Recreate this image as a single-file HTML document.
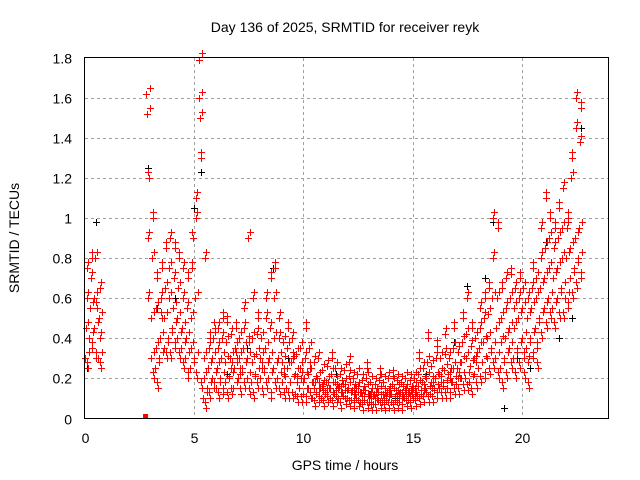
<!DOCTYPE html>
<html><head><meta charset="utf-8"><style>
body{margin:0;background:#fff}
svg{display:block;font-family:"Liberation Sans",sans-serif}
</style></head><body>
<svg id="chart" width="640" height="480">
<rect width="640" height="480" fill="#fff"/>
<g id="grid"></g>
<g id="black"></g>
<g id="red"></g>
<rect x="84.5" y="57.5" width="524" height="361" fill="none" stroke="#000"/>
<g id="ticks"></g>
<text x="345" y="32" font-size="14" text-anchor="middle">Day 136 of 2025, SRMTID for receiver reyk</text>
<text x="345" y="470" font-size="14" text-anchor="middle">GPS time / hours</text>
<text transform="translate(19,238) rotate(-90)" font-size="14" text-anchor="middle">SRMTID / TECUs</text>
</svg>
<script>
const xTicks=[0,5,10,15,20];
const yTicks=[0,0.2,0.4,0.6,0.8,1,1.2,1.4,1.6,1.8];
const yTickLabels=["0","0.2","0.4","0.6","0.8","1","1.2","1.4","1.6","1.8"];
const hours=[0,0.2,0.4,0.6,2.8,3.0,3.2,3.4,3.6,3.8,4.0,4.2,4.4,4.6,4.8,5.0,5.2,5.4,5.6,5.8,6.0,6.2,6.4,6.6,6.8,7.0,7.2,7.4,7.6,7.8,8.0,8.2,8.4,8.6,8.8,9.0,9.2,9.4,9.6,9.8,10.0,10.2,10.4,10.6,10.8,11.0,11.2,11.4,11.6,11.8,12.0,12.2,12.4,12.6,12.8,13.0,13.2,13.4,13.6,13.8,14.0,14.2,14.4,14.6,14.8,15.0,15.2,15.4,15.6,15.8,16.0,16.2,16.4,16.6,16.8,17.0,17.2,17.4,17.6,17.8,18.0,18.2,18.4,18.6,18.8,19.0,19.2,19.4,19.6,19.8,20.0,20.2,20.4,20.6,20.8,21.0,21.2,21.4,21.6,21.8,22.0,22.2,22.4,22.6,22.8];
const redValues=[
[0.3,0.45,0.6,0.75,0.25],[0.4,0.55,0.7,0.35,0.8],[0.45,0.6,0.8,0.3,0.55],[0.3,0.5,0.65,0.4,0.25],
[1.62,1.52,0.9,0.6,1.2],[0.3,0.5,0.8,1.0,0.2],[0.25,0.35,0.55,0.7,0.15],[0.3,0.4,0.6,0.75,0.5],
[0.35,0.5,0.65,0.85,0.3],[0.4,0.6,0.75,0.9,0.3],[0.45,0.55,0.7,0.85,0.35],[0.4,0.5,0.65,0.8,0.3],
[0.35,0.45,0.6,0.75,0.25],[0.3,0.4,0.55,0.7,0.2],[0.25,0.35,0.5,0.75,0.9],[0.3,0.6,1.0,1.1,0.2],
[1.79,1.6,1.5,1.3,0.15],[0.1,0.2,0.3,0.8,0.05],[0.15,0.25,0.35,0.4,0.1],[0.2,0.3,0.4,0.15,0.45],
[0.15,0.25,0.35,0.45,0.1],[0.2,0.3,0.4,0.5,0.12],[0.18,0.28,0.38,0.48,0.1],[0.2,0.3,0.42,0.25,0.12],
[0.15,0.25,0.35,0.45,0.3],[0.2,0.3,0.4,0.22,0.12],[0.25,0.35,0.45,0.55,0.15],[0.2,0.3,0.9,0.38,0.12],
[0.18,0.28,0.4,0.6,0.1],[0.22,0.32,0.42,0.5,0.15],[0.2,0.3,0.4,0.25,0.12],[0.25,0.35,0.5,0.6,0.15],
[0.2,0.3,0.45,0.7,0.1],[0.25,0.4,0.6,0.75,0.15],[0.2,0.3,0.4,0.5,0.12],[0.18,0.28,0.38,0.22,0.1],
[0.15,0.25,0.35,0.45,0.1],[0.18,0.28,0.4,0.3,0.1],[0.12,0.22,0.32,0.18,0.08],[0.15,0.25,0.35,0.2,0.08],
[0.12,0.2,0.3,0.45,0.08],[0.15,0.22,0.35,0.25,0.1],[0.1,0.18,0.28,0.15,0.06],[0.12,0.2,0.3,0.15,0.08],
[0.1,0.16,0.24,0.14,0.06],[0.12,0.18,0.26,0.15,0.08],[0.1,0.15,0.22,0.3,0.06],[0.12,0.18,0.25,0.14,0.08],
[0.1,0.16,0.22,0.13,0.05],[0.11,0.17,0.24,0.14,0.07],[0.1,0.15,0.21,0.28,0.06],[0.09,0.14,0.2,0.12,0.05],
[0.1,0.15,0.22,0.13,0.06],[0.08,0.13,0.19,0.11,0.04],[0.09,0.14,0.2,0.25,0.05],[0.08,0.12,0.18,0.1,0.04],
[0.07,0.12,0.17,0.1,0.04],[0.09,0.13,0.19,0.22,0.05],[0.08,0.12,0.18,0.1,0.04],[0.09,0.13,0.2,0.11,0.05],
[0.08,0.12,0.17,0.21,0.04],[0.09,0.14,0.19,0.11,0.05],[0.08,0.13,0.18,0.1,0.04],[0.1,0.14,0.2,0.12,0.06],
[0.09,0.13,0.19,0.11,0.05],[0.1,0.15,0.2,0.12,0.06],[0.11,0.16,0.22,0.3,0.07],[0.12,0.18,0.25,0.14,0.08],
[0.13,0.2,0.28,0.4,0.08],[0.12,0.18,0.26,0.15,0.08],[0.14,0.2,0.3,0.36,0.1],[0.15,0.22,0.3,0.18,0.1],
[0.16,0.24,0.32,0.42,0.1],[0.15,0.22,0.3,0.2,0.1],[0.18,0.25,0.35,0.45,0.12],[0.17,0.25,0.33,0.2,0.12],
[0.2,0.28,0.38,0.5,0.14],[0.2,0.3,0.42,0.6,0.14],[0.18,0.26,0.36,0.45,0.12],[0.22,0.3,0.4,0.28,0.15],
[0.25,0.35,0.45,0.55,0.18],[0.28,0.38,0.5,0.6,0.2],[0.3,0.4,0.52,0.65,0.22],[0.35,0.6,0.8,1.0,0.25],
[0.3,0.45,0.6,0.95,0.2],[0.25,0.38,0.5,0.65,0.15],[0.3,0.4,0.55,0.7,0.2],[0.35,0.45,0.6,0.72,0.25],
[0.3,0.45,0.55,0.65,0.2],[0.35,0.5,0.6,0.7,0.25],[0.4,0.55,0.65,0.3,0.2],[0.35,0.5,0.6,0.28,0.15],
[0.4,0.55,0.65,0.75,0.3],[0.45,0.6,0.7,0.35,0.25],[0.5,0.65,0.8,0.95,0.4],[0.55,0.7,0.85,1.1,0.45],
[0.6,0.75,0.9,1.0,0.5],[0.55,0.7,0.85,0.95,0.45],[0.6,0.75,0.9,1.05,0.5],[0.65,0.8,0.95,1.15,0.5],
[0.6,0.8,0.95,1.0,0.55],[0.7,0.85,1.2,1.3,0.6],[0.75,0.9,1.45,1.6,0.65],[0.8,0.95,1.38,1.55,0.7]];
const blackHours=[0.1,0.5,2.9,3.3,4.1,5.0,5.3,6.5,7.4,8.6,9.3,10.1,11.5,13.0,14.2,15.6,16.9,17.5,18.3,18.7,19.2,19.8,20.4,21.1,21.7,22.3,22.7];
const blackValues=[0.25,0.98,1.25,0.55,0.6,1.05,1.23,0.22,0.35,0.75,0.3,0.45,0.22,0.12,0.1,0.22,0.38,0.66,0.7,0.98,0.05,0.3,0.25,0.88,0.4,0.5,1.45];
const sx=h=>85+h*(524/24), sy=v=>418.5-v*(361/1.8);
const NS='http://www.w3.org/2000/svg';
const mk=(t,a,p)=>{const e=document.createElementNS(NS,t);for(const k in a)e.setAttribute(k,a[k]);p.appendChild(e);return e;};
const grid=document.getElementById('grid'),ticks=document.getElementById('ticks');
yTicks.forEach((v,i)=>{const y=Math.round(sy(v))+0.5;
 if(i>0&&i<yTicks.length-1){const l=mk('line',{x1:85,x2:608,y1:y,y2:y,stroke:'#a0a0a0','stroke-dasharray':'3,3'},grid);
 }
 const t=mk('text',{x:72,y:y+5,'font-size':14,'text-anchor':'end'},ticks);t.textContent=yTickLabels[i];
 });
xTicks.forEach(h=>{const x=Math.round(sx(h))+0.5;
 if(h>0){const l=mk('line',{x1:x,x2:x,y1:58,y2:418,stroke:'#a0a0a0','stroke-dasharray':'3,3'},grid);
 }
 const t=mk('text',{x:x,y:443,'font-size':14,'text-anchor':'middle'},ticks);t.textContent=String(h);
 });
function plus(x,y){x=Math.round(x)+0.5;y=Math.round(y)+0.5;return `M${x-3.5} ${y}h7M${x} ${y-3.5}v7`;}
let d='';blackHours.forEach((h,i)=>{d+=plus(sx(h),sy(blackValues[i]));});
const pb=mk('path',{d:d,stroke:'#000','stroke-width':1,fill:'none'},document.getElementById('black'));

d='';
const nRows=Math.min(hours.length,redValues.length);
for(let i=0;i<nRows;i++){const row=redValues[i]||[];const h=hours[i];
 for(let j=0;j<row.length;j++){
  d+=plus(sx(h+j*0.035),sy(row[j]));
  d+=plus(sx(h+0.1+j*0.02),sy(row[row.length-1-j]*1.0+0.03));
 }}
const pr=mk('path',{d:d,stroke:'#f00','stroke-width':1,fill:'none'},document.getElementById('red'));

const m=mk('rect',{x:sx(2.75)-2,y:414,width:5,height:5,fill:'#f00'},document.getElementById('red'));

</script>
</body></html>
